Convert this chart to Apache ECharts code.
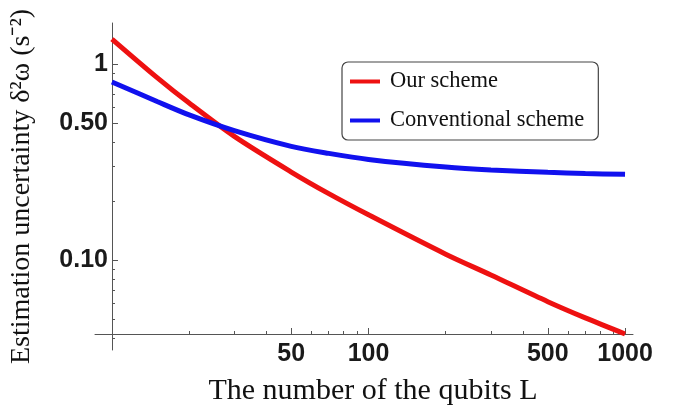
<!DOCTYPE html>
<html>
<head>
<meta charset="utf-8">
<script src="https://cdn.jsdelivr.net/npm/echarts@6/dist/echarts.min.js"></script>
<style>
  html, body { margin: 0; padding: 0; background: #fff; }
  #chart { width: 692px; height: 416px; }
</style>
</head>
<body>
<div id="chart"></div>
<script>
// number of qubits L (log axis)
const qubits = [10, 15, 20, 30, 50, 70, 100, 200, 300, 500, 700, 1000];
// estimation uncertainty
const ourScheme = [1.342, 0.853, 0.632, 0.427, 0.281, 0.218, 0.170, 0.107, 0.0838, 0.0612, 0.0506, 0.0419];
const conventional = [0.810, 0.644, 0.550, 0.457, 0.380, 0.350, 0.326, 0.298, 0.288, 0.280, 0.276, 0.274];

const xMajor = [50, 100, 500, 1000];
const xMinor = [20, 30, 40, 60, 70, 80, 90, 200, 300, 400, 600, 700, 800, 900];
const yMajor = [0.1, 0.5, 1];
const yMinor = [0.04, 0.05, 0.06, 0.07, 0.08, 0.09, 0.2, 0.3, 0.4, 0.6, 0.7, 0.8, 0.9];

const axisColor = '#555';
const xRange = { min: 8.59, max: 1074 };
const yRange = { min: 0.0347, max: 1.62 };

const chart = echarts.init(document.getElementById('chart'));

function fmtY(v) {
    if (Math.abs(v - 1) < 1e-9) return '1';
    return v.toFixed(2);
}

function fmtX(v) {
    return String(Math.round(v));
}

const tickFont = { fontFamily: '"Liberation Sans", Arial, sans-serif', fontWeight: 'bold', fontSize: 25, color: '#1a1a1a' };
const serif = '"Liberation Serif", "Times New Roman", serif';

chart.setOption({
    animation: false,
    backgroundColor: '#fff',
    grid: { left: 92, right: 59, top: 23, bottom: 66, containLabel: false },
    legend: {
        orient: 'vertical',
        left: 342,
        top: 62,
        data: ['Our scheme', 'Conventional scheme'],
        icon: 'rect',
        itemWidth: 30,
        itemHeight: 4,
        itemGap: 16,
        padding: [8, 14, 8, 8],
        borderColor: '#444',
        borderWidth: 1.2,
        borderRadius: 6,
        textStyle: {
            fontFamily: serif,
            fontSize: 22.5,
            color: '#111',
            padding: [0, 0, 0, 5]
        }
    },
    xAxis: [
        {
            type: 'log', logBase: 10, position: 'bottom', offset: -16,
            min: xRange.min, max: xRange.max,
            axisLine: { lineStyle: { color: axisColor, width: 1 } },
            axisTick: { inside: true, length: 6, customValues: xMajor, lineStyle: { color: axisColor } },
            axisLabel: { customValues: xMajor, margin: 8, formatter: fmtX, ...tickFont },
            splitLine: { show: false },
            name: 'The number of the qubits L',
            nameLocation: 'middle',
            nameGap: 42,
            nameTextStyle: {
                fontFamily: serif,
                fontSize: 30, color: '#111', padding: [0, 0, 0, 18]
            }
        },
        {
            type: 'log', logBase: 10, position: 'bottom', offset: -16,
            min: xRange.min, max: xRange.max,
            axisLine: { show: false },
            axisTick: { inside: true, length: 3, customValues: xMinor, lineStyle: { color: axisColor } },
            axisLabel: { show: false },
            splitLine: { show: false }
        }
    ],
    yAxis: [
        {
            type: 'log', logBase: 10, position: 'left', offset: -17,
            min: yRange.min, max: yRange.max,
            axisLine: { lineStyle: { color: axisColor, width: 1 } },
            axisTick: { inside: true, length: 6, customValues: yMajor, lineStyle: { color: axisColor } },
            axisLabel: { customValues: yMajor, margin: 4, formatter: fmtY, ...tickFont },
            splitLine: { show: false },
            name: 'Estimation uncertainty δ²ω (s⁻²)',
            nameLocation: 'middle',
            nameGap: 76,
            nameTextStyle: {
                fontFamily: serif,
                fontSize: 28, color: '#111'
            }
        },
        {
            type: 'log', logBase: 10, position: 'left', offset: -17,
            min: yRange.min, max: yRange.max,
            axisLine: { show: false },
            axisTick: { inside: true, length: 3, customValues: yMinor, lineStyle: { color: axisColor } },
            axisLabel: { show: false },
            splitLine: { show: false }
        }
    ],
    series: [
        {
            name: 'Our scheme',
            type: 'line',
            smooth: 0.3,
            showSymbol: false,
            xAxisIndex: 0, yAxisIndex: 0,
            lineStyle: { color: '#ee1111', width: 5 },
            itemStyle: { color: '#ee1111' },
            data: qubits.map((L, i) => [L, ourScheme[i]])
        },
        {
            name: 'Conventional scheme',
            type: 'line',
            smooth: 0.3,
            showSymbol: false,
            xAxisIndex: 0, yAxisIndex: 0,
            lineStyle: { color: '#1111ee', width: 5 },
            itemStyle: { color: '#1111ee' },
            data: qubits.map((L, i) => [L, conventional[i]])
        }
    ]
});
</script>
</body>
</html>
